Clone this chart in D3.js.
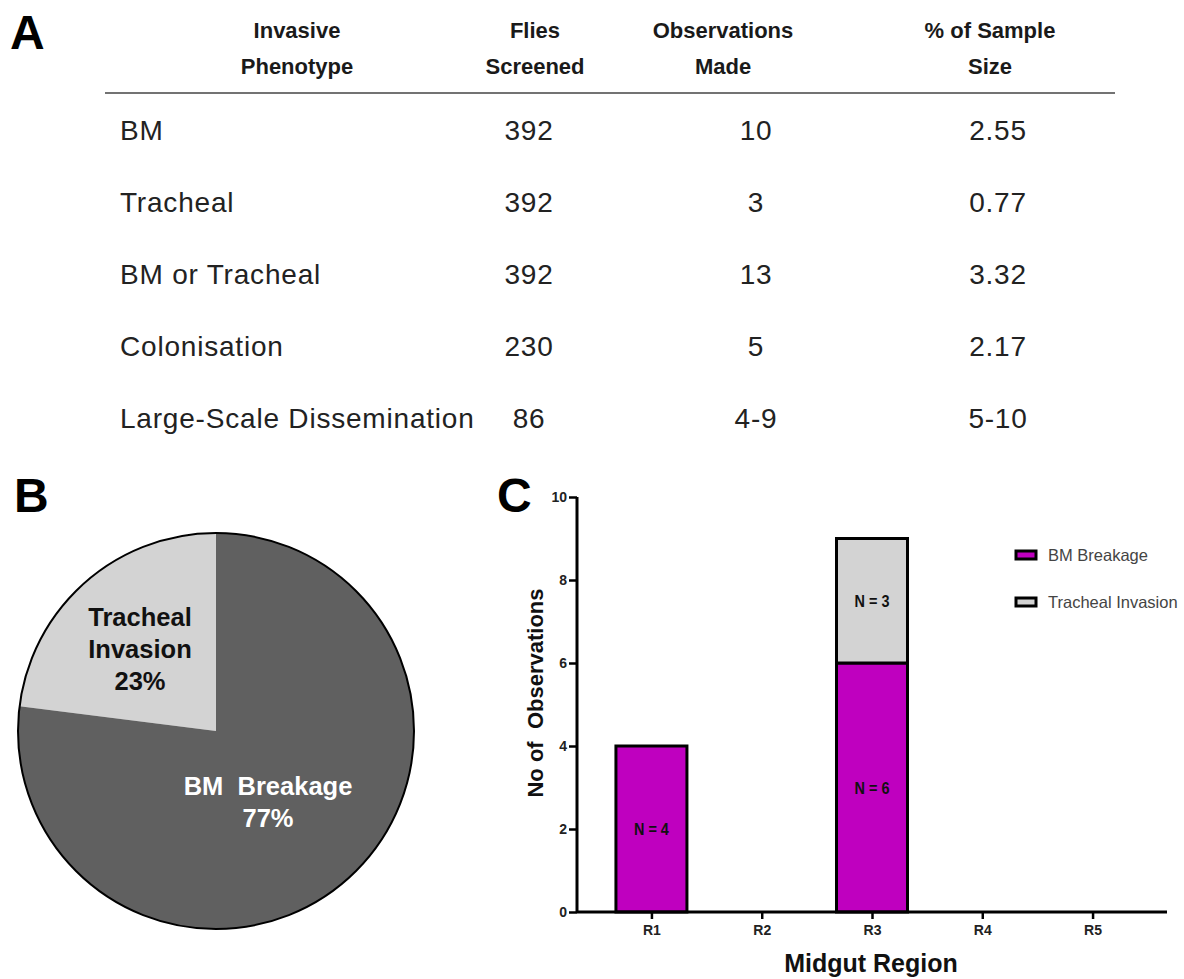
<!DOCTYPE html>
<html>
<head>
<meta charset="utf-8">
<script src="https://cdn.jsdelivr.net/npm/d3@7"></script>
<style>
  body { margin: 0; background: #fff; }
  svg { display: block; font-family: "Liberation Sans", Arial, sans-serif; }
</style>
</head>
<body>
<div id="chart"></div>
<script>
// DATA //
// panel A table
const tableHeaders = [["Invasive", "Phenotype"], ["Flies", "Screened"], ["Observations", "Made"], ["% of Sample", "Size"]]
const phenotypes = ["BM", "Tracheal", "BM or Tracheal", "Colonisation", "Large-Scale Dissemination"]
const fliesScreened = ["392", "392", "392", "230", "86"]
const observationsMade = ["10", "3", "13", "5", "4-9"]
const pctSample = ["2.55", "0.77", "3.32", "2.17", "5-10"]

// panel B pie
const pieCategories = ["Tracheal Invasion", "BM Breakage"]
const pieValues = [23, 77]
const pieColors = ["#d3d3d3", "#606060"]

// panel C stacked bars
const regions = ["R1", "R2", "R3", "R4", "R5"]
const seriesKeys = ["BM Breakage", "Tracheal Invasion"]
const bmBreakage = [4, 0, 6, 0, 0]
const trachealInvasion = [0, 0, 3, 0, 0]
const barColors = ["#bf00bf", "#d3d3d3"]
const yTicks = [0, 2, 4, 6, 8, 10]

const width = 1184
const height = 979

const svg = d3.select("#chart").append("svg")
    .attr("width", width)
    .attr("height", height)

// panel letters
const letters = [["A", 10, 49], ["B", 14, 512], ["C", 497, 512]]
svg.selectAll(".panel-letter").data(letters)
    .join("text")
    .attr("class", "panel-letter")
    .attr("x", d => d[1])
    .attr("y", d => d[2])
    .attr("font-size", 48)
    .attr("font-weight", "bold")
    .text(d => d[0])

// PANEL A //
const colX = [297, 535, 723, 990]
const valX = [120, 529, 756, 998]
const rowY = d3.scalePoint().domain(phenotypes).range([140, 428])

const head = svg.append("g")
tableHeaders.forEach((lines, i) => {
    head.append("text")
        .attr("text-anchor", "middle")
        .attr("font-size", 22)
        .attr("font-weight", "bold")
        .attr("fill", "#1a1a1a")
        .selectAll("tspan").data(lines)
        .join("tspan")
        .attr("x", colX[i])
        .attr("y", (d, j) => 38 + j * 36)
        .text(d => d)
})

svg.append("line")
    .attr("x1", 105).attr("x2", 1115)
    .attr("y1", 93).attr("y2", 93)
    .attr("stroke", "#444").attr("stroke-width", 1.5)

const cols = [phenotypes, fliesScreened, observationsMade, pctSample]
cols.forEach((vals, i) => {
    svg.append("g").selectAll("text").data(vals)
        .join("text")
        .attr("x", valX[i])
        .attr("y", (d, j) => rowY(phenotypes[j]))
        .attr("text-anchor", i == 0 ? "start" : "middle")
        .attr("font-size", 28)
        .attr("letter-spacing", 0.8)
        .attr("fill", "#222")
        .text(d => d)
})

// PANEL B //
const pieCenter = [216, 731]
const radius = 198
const frac = pieValues[0] / d3.sum(pieValues)
const pie = d3.pie().sort(null)
    .startAngle(-2 * Math.PI * frac)
    .endAngle(2 * Math.PI * (1 - frac))
const arc = d3.arc().innerRadius(0).outerRadius(radius)

const pieG = svg.append("g")
    .attr("transform", `translate(${pieCenter[0]},${pieCenter[1]})`)

pieG.selectAll("path").data(pie(pieValues))
    .join("path")
    .attr("d", arc)
    .attr("fill", (d, i) => pieColors[i])

pieG.append("circle")
    .attr("r", radius)
    .attr("fill", "none")
    .attr("stroke", "#000")
    .attr("stroke-width", 2)

const pieLabels = [
    { lines: ["Tracheal", "Invasion", pieValues[0] + "%"], x: -76, y: -105, fill: "#111" },
    { lines: ["BM  Breakage", pieValues[1] + "%"], x: 52, y: 64, fill: "#fff" },
]
pieLabels.forEach(l => {
    pieG.append("text")
        .attr("text-anchor", "middle")
        .attr("font-size", 25.5)
        .attr("font-weight", "bold")
        .attr("fill", l.fill)
        .style("white-space", "pre")
        .selectAll("tspan").data(l.lines)
        .join("tspan")
        .attr("x", l.x)
        .attr("y", (d, j) => l.y + j * 32)
        .text(d => d)
})

// PANEL C //
const barG = svg.append("g")

const plotLeft = 577
const plotRight = 1167
const xScale = d3.scalePoint().domain(regions).range([plotLeft, plotRight]).padding(0.675)
const yScale = d3.scaleLinear().domain([0, 10]).range([912, 497])
const barWidth = 71

const barTable = regions.map((r, i) => ({
    region: r,
    "BM Breakage": bmBreakage[i],
    "Tracheal Invasion": trachealInvasion[i],
}))
const stacked = d3.stack().keys(seriesKeys)(barTable)

stacked.forEach((series, k) => {
    barG.append("g").selectAll("rect")
        .data(series.filter(d => d[1] - d[0] > 0))
        .join("rect")
        .attr("x", d => xScale(d.data.region) - barWidth / 2)
        .attr("y", d => yScale(d[1]))
        .attr("width", barWidth)
        .attr("height", d => yScale(d[0]) - yScale(d[1]))
        .attr("fill", barColors[k])
        .attr("stroke", "#000")
        .attr("stroke-width", 3)
})

// N = labels inside segments (condensed look)
stacked.forEach(series => {
    barG.append("g").selectAll("text")
        .data(series.filter(d => d[1] - d[0] > 0))
        .join("text")
        .attr("transform", d => `translate(${xScale(d.data.region)},${yScale((d[0] + d[1]) / 2) + 6}) scale(0.85,1)`)
        .attr("text-anchor", "middle")
        .attr("font-size", 17)
        .attr("font-weight", "bold")
        .attr("fill", "#111")
        .text(d => "N = " + (d[1] - d[0]))
})

// axes
const xAxis = barG.append("g")
    .attr("transform", `translate(0,${yScale(0)})`)
    .call(d3.axisBottom(xScale).tickSize(7).tickPadding(6))
xAxis.select(".domain")
    .attr("d", `M${plotLeft},0H${plotRight}`)
    .attr("stroke-width", 3)

const yAxis = barG.append("g")
    .attr("transform", `translate(${plotLeft},0)`)
    .call(d3.axisLeft(yScale).tickValues(yTicks).tickSize(8).tickPadding(2))
yAxis.select(".domain").attr("stroke-width", 3).attr("d", `M0,${yScale(10)}V${yScale(0)}`)

barG.selectAll(".tick line").attr("stroke-width", 2.5)
barG.selectAll(".tick text")
    .attr("font-family", "'Liberation Sans', Arial, sans-serif")
    .attr("font-size", 14)
    .attr("font-weight", "bold")
    .attr("fill", "#222")

barG.append("text")
    .attr("x", 871)
    .attr("y", 972)
    .attr("text-anchor", "middle")
    .attr("font-size", 25)
    .attr("font-weight", "bold")
    .attr("fill", "#111")
    .text("Midgut Region")

barG.append("text")
    .attr("transform", "translate(543,693) rotate(-90)")
    .attr("text-anchor", "middle")
    .attr("font-size", 22)
    .attr("font-weight", "bold")
    .attr("fill", "#111")
    .style("white-space", "pre")
    .text("No of  Observations")

// legend
const legend = barG.append("g").selectAll("g").data(seriesKeys)
    .join("g")
    .attr("transform", (d, i) => `translate(1016,${555 + i * 47})`)
legend.append("rect")
    .attr("x", 0).attr("y", -4)
    .attr("width", 20).attr("height", 8)
    .attr("fill", (d, i) => barColors[i])
    .attr("stroke", "#000")
    .attr("stroke-width", 3)
legend.append("text")
    .attr("x", 32)
    .attr("y", 6)
    .attr("font-size", 16.5)
    .attr("fill", "#444")
    .text(d => d)
</script>
</body>
</html>
